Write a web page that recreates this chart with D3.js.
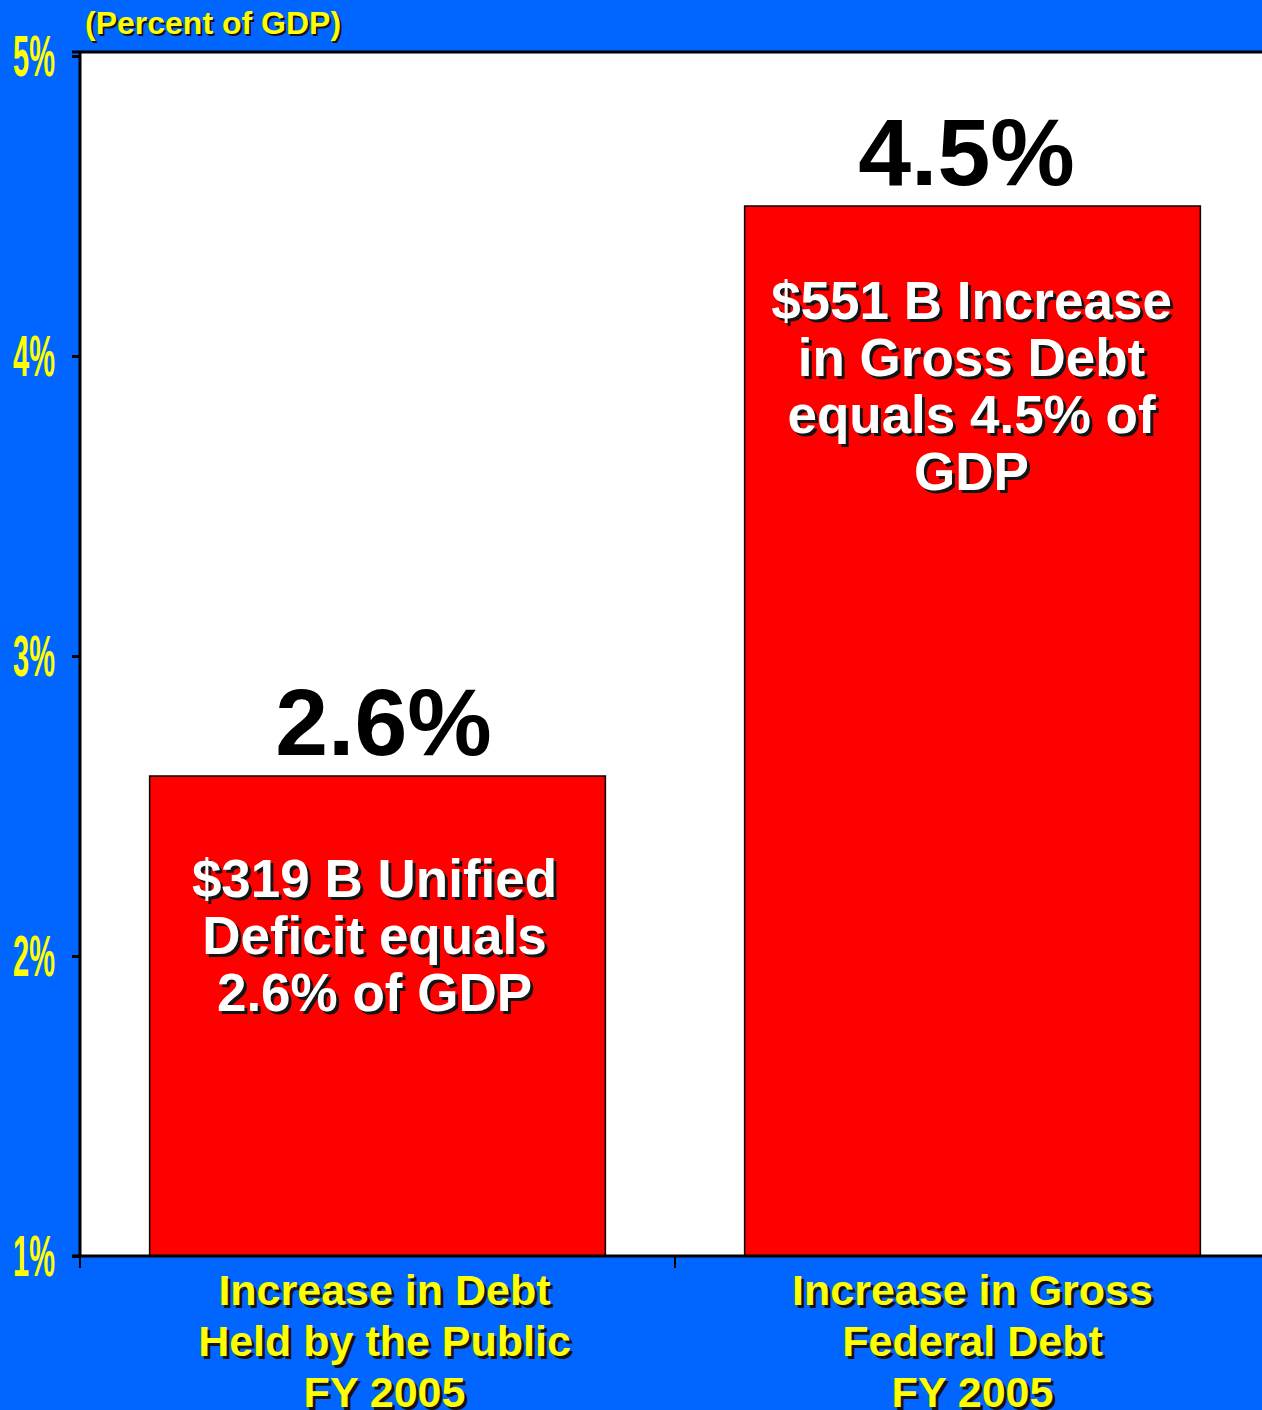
<!DOCTYPE html>
<html>
<head>
<meta charset="utf-8">
<script src="https://cdn.jsdelivr.net/npm/d3@7"></script>
<style>
  html, body { margin: 0; padding: 0; background: #0066FF; }
  svg { display: block; }
  text { font-family: "Liberation Sans", Arial, sans-serif; font-weight: bold; }
</style>
</head>
<body>
<svg id="chart" width="1262" height="1410"></svg>
<script>
// Debt increase in FY 2005, as a share of GDP
const categories = [
  ["Increase in Debt", "Held by the Public", "FY 2005"],
  ["Increase in Gross", "Federal Debt", "FY 2005"]
];
const values = [2.6, 4.5];
const valueLabels = ["2.6%", "4.5%"];
const barNotes = [
  ["$319 B Unified", "Deficit equals", "2.6% of GDP"],
  ["$551 B Increase", "in Gross Debt", "equals 4.5% of", "GDP"]
];
const yTicks = [1, 2, 3, 4, 5];
const yTickLabels = ["1%", "2%", "3%", "4%", "5%"];
const unitLabel = "(Percent of GDP)";

const plot = { left: 80, right: 1270, top: 52, bottom: 1256 };

const svg = d3.select("#chart");

const x = d3.scaleBand()
  .domain(d3.range(categories.length))
  .range([plot.left, plot.right])
  .paddingInner(0.234)
  .paddingOuter(0.117);

const y = d3.scaleLinear()
  .domain([1, 5])
  .range([plot.bottom, 56]);

// white plotting area
svg.append("rect")
  .attr("x", plot.left).attr("y", plot.top)
  .attr("width", plot.right - plot.left)
  .attr("height", plot.bottom - plot.top)
  .attr("fill", "#ffffff");

// text with a dark drop shadow
function shadowText(g, txt, px, py, fill, size, anchor, dx, dy) {
  g.append("text")
    .attr("x", px + dx).attr("y", py + dy)
    .attr("text-anchor", anchor)
    .attr("font-size", size)
    .attr("fill", "#141414")
    .text(txt);
  g.append("text")
    .attr("x", px).attr("y", py)
    .attr("text-anchor", anchor)
    .attr("font-size", size)
    .attr("fill", fill)
    .text(txt);
}

// bars
svg.append("g").selectAll("rect")
  .data(values)
  .join("rect")
  .attr("x", (d, i) => x(i))
  .attr("y", d => y(d))
  .attr("width", x.bandwidth())
  .attr("height", d => y(1) - y(d))
  .attr("fill", "#FF0000")
  .attr("stroke", "#000")
  .attr("stroke-width", 1.5);

// value labels above bars
const valueShift = [6, -6];
svg.append("g").selectAll("text")
  .data(values)
  .join("text")
  .attr("x", (d, i) => x(i) + x.bandwidth() / 2 + valueShift[i])
  .attr("y", d => y(d) - 21)
  .attr("text-anchor", "middle")
  .attr("font-size", 95)
  .attr("fill", "#000")
  .text((d, i) => valueLabels[i]);

// notes inside bars
const noteOffset = [121, 113];
const noteShift = [-3, -1];
barNotes.forEach((lines, i) => {
  const g = svg.append("g");
  const cx = x(i) + x.bandwidth() / 2 + noteShift[i];
  lines.forEach((ln, j) => {
    shadowText(g, ln, cx, y(values[i]) + noteOffset[i] + j * 57, "#ffffff", 53, "middle", 3, 3);
  });
});

// y axis (left border + ticks)
const yAxis = d3.axisLeft(y)
  .tickValues(yTicks)
  .tickSize(8)
  .tickSizeOuter(0)
  .tickFormat("");
const yg = svg.append("g")
  .attr("transform", `translate(${plot.left},0)`)
  .call(yAxis);
yg.select(".domain").remove();
yg.selectAll(".tick line").attr("stroke", "#000").attr("stroke-width", 3);
svg.append("line")
  .attr("x1", plot.left).attr("x2", plot.left)
  .attr("y1", plot.top).attr("y2", plot.bottom)
  .attr("stroke", "#000").attr("stroke-width", 3);

// condensed yellow tick labels
const tl = svg.append("g");
yTicks.forEach((t, i) => {
  tl.append("text")
    .attr("transform", `translate(55,${Math.max(y(t), plot.top) + 20}) scale(0.5,1)`)
    .attr("text-anchor", "end")
    .attr("font-family", "'Liberation Sans Narrow', 'Liberation Sans', sans-serif")
    .attr("font-size", 58)
    .attr("fill", "#FFFF00")
    .text(yTickLabels[i]);
});

// top border of the plotting area
svg.append("line")
  .attr("x1", plot.left - 8).attr("x2", plot.right)
  .attr("y1", plot.top).attr("y2", plot.top)
  .attr("stroke", "#000").attr("stroke-width", 3);

// x axis line with separators at band boundaries
svg.append("line")
  .attr("x1", plot.left - 8).attr("x2", plot.right)
  .attr("y1", plot.bottom).attr("y2", plot.bottom)
  .attr("stroke", "#000").attr("stroke-width", 3);

const step = x.step();
const boundaries = d3.range(categories.length + 1).map(i => plot.left + i * step);
svg.append("g").selectAll("line")
  .data(boundaries)
  .join("line")
  .attr("x1", d => d).attr("x2", d => d)
  .attr("y1", plot.bottom).attr("y2", plot.bottom + 12)
  .attr("stroke", "#000").attr("stroke-width", 2);

// category labels
const catShift = [7, 0];
categories.forEach((lines, i) => {
  const g = svg.append("g");
  const cx = x(i) + x.bandwidth() / 2 + catShift[i];
  lines.forEach((ln, j) => {
    shadowText(g, ln, cx, 1305 + j * 51, "#FFFF00", 43, "middle", 3, 3);
  });
});

// unit label
shadowText(svg.append("g"), unitLabel, 85, 34, "#FFFF00", 32, "start", 2, 2);
</script>
</body>
</html>
